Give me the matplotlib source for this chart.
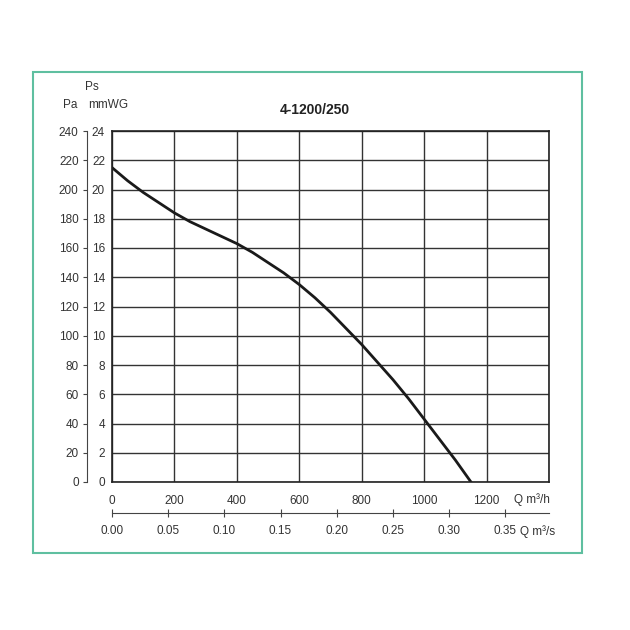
import matplotlib.pyplot as plt
from matplotlib.patches import Rectangle

plt.rcParams['font.family'] = ['Liberation Sans', 'DejaVu Sans']

# flow (m3/h) and static pressure (mmWG)
flow = [0, 50, 100, 150, 200, 250, 300, 350, 400, 450, 500, 550, 600, 650, 700,
        750, 800, 850, 900, 950, 1000, 1050, 1100, 1150]
ps_mmwg = [21.5, 20.6, 19.8, 19.1, 18.4, 17.8, 17.3, 16.8, 16.3, 15.7, 15.0, 14.3,
           13.5, 12.6, 11.6, 10.5, 9.4, 8.2, 7.0, 5.7, 4.3, 2.9, 1.5, 0.0]
mmwg_ticks = list(range(0, 25, 2))
pa_ticks = list(range(0, 241, 20))
flow_ticks = [0, 200, 400, 600, 800, 1000, 1200]
flow_s_ticks = [0.00, 0.05, 0.10, 0.15, 0.20, 0.25, 0.30, 0.35]

txt = '#333333'
fs = 8.5
fig = plt.figure(figsize=(6.3, 6.3), dpi=100)
fig.patches.append(Rectangle((33 / 630, 1 - 553 / 630), 549 / 630, 481 / 630,
                             transform=fig.transFigure, fill=False,
                             edgecolor='#5fbfa0', linewidth=1.5))

ax = fig.add_axes([112 / 630, 1 - 482 / 630, 437 / 630, 351 / 630])
ax.plot(flow, ps_mmwg, color='#1a1a1a', linewidth=2)
ax.set_xlim(0, 1400)
ax.set_ylim(0, 24)
ax.set_xticks(flow_ticks + [1400])
ax.set_xticklabels([str(v) for v in flow_ticks] + [''])
ax.set_yticks(mmwg_ticks)
ax.tick_params(axis='both', length=0, pad=5, labelsize=fs, labelcolor=txt)
ax.tick_params(axis='x', pad=9)
ax.grid(True, color='#333333', linewidth=1)
for s in ax.spines.values():
    s.set_linewidth(1.2)
    s.set_color('#222222')

# Pa axis on the far left
pa = ax.twinx()
pa.set_ylim(0, 240)
pa.set_yticks(pa_ticks)
pa.yaxis.set_ticks_position('left')
pa.yaxis.set_label_position('left')
pa.spines['left'].set_position(('outward', 18))
pa.spines['left'].set_color('#444444')
for k in ['right', 'top', 'bottom']:
    pa.spines[k].set_visible(False)
pa.tick_params(axis='y', length=3, pad=3, color='#444444', labelsize=fs, labelcolor=txt)

# m3/s axis below
qs = ax.twiny()
qs.set_xlim(0, 1400 / 3600)
qs.set_xticks(flow_s_ticks)
qs.set_xticklabels([f'{v:.2f}' for v in flow_s_ticks])
qs.xaxis.set_ticks_position('bottom')
qs.xaxis.set_label_position('bottom')
qs.spines['bottom'].set_position(('outward', 22))
qs.spines['bottom'].set_color('#444444')
for k in ['right', 'top', 'left']:
    qs.spines[k].set_visible(False)
qs.tick_params(axis='x', direction='inout', length=6, pad=6, color='#444444',
               labelsize=fs, labelcolor=txt)

fig.text(532 / 630, 1 - 500 / 630, 'Q m³/h', fontsize=fs, color=txt, ha='center', va='center')
fig.text(538 / 630, 1 - 532 / 630, 'Q m³/s', fontsize=fs, color=txt, ha='center', va='center')
fig.text(92 / 630, 1 - 87 / 630, 'Ps', fontsize=fs, color=txt, ha='center', va='center')
fig.text(70 / 630, 1 - 105 / 630, 'Pa', fontsize=fs, color=txt, ha='center', va='center')
fig.text(108 / 630, 1 - 105 / 630, 'mmWG', fontsize=fs, color=txt, ha='center', va='center')
fig.text(315 / 630, 1 - 110 / 630, '4-1200/250', fontsize=10, fontweight='bold',
         color='#222222', ha='center', va='center')

fig.savefig('out.png', dpi=100)
